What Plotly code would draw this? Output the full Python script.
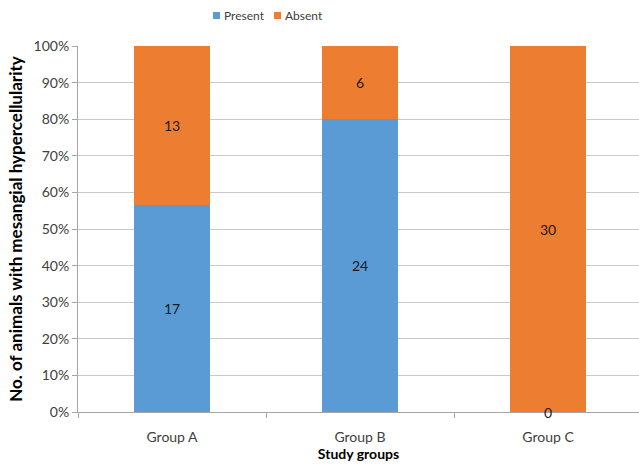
import plotly.graph_objects as go

groups = ["Group A", "Group B", "Group C"]
present = [17, 24, 0]
absent = [13, 6, 30]
tick_vals = [0, 10, 20, 30, 40, 50, 60, 70, 80, 90, 100]
tick_text = [f"{v}%" for v in tick_vals]

BLUE = "#5B9BD5"
ORANGE = "#ED7D31"
FONT = "Lato, Open Sans, sans-serif"

W, H = 639, 466
ML, MR, MT, MB = 78, 0, 46, 54

totals = [p + a for p, a in zip(present, absent)]
pres_pct = [100 * p / t for p, t in zip(present, totals)]
abs_pct = [100 * a / t for a, t in zip(absent, totals)]

fig = go.Figure()
fig.add_trace(go.Bar(x=groups, y=pres_pct, name="Present", marker_color=BLUE,
                     marker_line_width=0, width=0.4, hoverinfo="skip"))
fig.add_trace(go.Bar(x=groups, y=abs_pct, name="Absent", marker_color=ORANGE,
                     marker_line_width=0, width=0.4, hoverinfo="skip"))

# value labels centred in each stacked segment
for g, p, a, pp, ap in zip(groups, present, absent, pres_pct, abs_pct):
    fig.add_annotation(x=g, y=pp / 2, text=str(p), showarrow=False,
                       font=dict(size=14, color="#1a1a1a", family=FONT))
    fig.add_annotation(x=g, y=pp + ap / 2, text=str(a), showarrow=False,
                       font=dict(size=14, color="#1a1a1a", family=FONT))

# compact legend row above the plot
def px_x(px):
    return (px - ML) / (W - ML - MR)

def px_y(py):
    return (H - MB - py) / (H - MT - MB)

legend_items = [("Present", BLUE, 213), ("Absent", ORANGE, 274)]
for label, color, left in legend_items:
    fig.add_shape(type="rect", xref="paper", yref="paper",
                  x0=px_x(left), x1=px_x(left + 7), y0=px_y(19), y1=px_y(12),
                  fillcolor=color, line_width=0)
    fig.add_annotation(xref="paper", yref="paper", x=px_x(left + 9), y=px_y(15.5),
                       text=label, showarrow=False, xanchor="left", yanchor="middle",
                       font=dict(size=12, color="#404040", family=FONT))

fig.update_layout(
    width=W, height=H,
    margin=dict(l=ML, r=MR, t=MT, b=MB),
    barmode="stack",
    plot_bgcolor="white", paper_bgcolor="white",
    font=dict(family=FONT, size=14, color="#404040"),
    showlegend=False,
    xaxis=dict(
        range=[-0.5, 2.484], showgrid=False, showline=True, linecolor="#a6a6a6",
        linewidth=1, ticks="outside", tickson="boundaries", ticklen=5,
        tickcolor="#a6a6a6", tickfont=dict(size=14, color="#404040"),
        ticklabelstandoff=12,
        title=dict(text="<b>Study groups</b>", font=dict(size=14, color="#000000"),
                   standoff=4),
        fixedrange=True,
    ),
    yaxis=dict(
        range=[0, 100], tickvals=tick_vals, ticktext=tick_text,
        showgrid=True, gridcolor="#c8c8c8", gridwidth=1,
        showline=True, linecolor="#a6a6a6", linewidth=1,
        ticks="outside", ticklen=5, tickcolor="#a6a6a6",
        tickfont=dict(size=14, color="#404040"),
        zeroline=False,
        title=dict(text="<b>No. of animals with mesangial hypercellularity</b>",
                   font=dict(size=17, color="#000000"), standoff=6),
        fixedrange=True,
    ),
)

fig.write_html("out.html")
